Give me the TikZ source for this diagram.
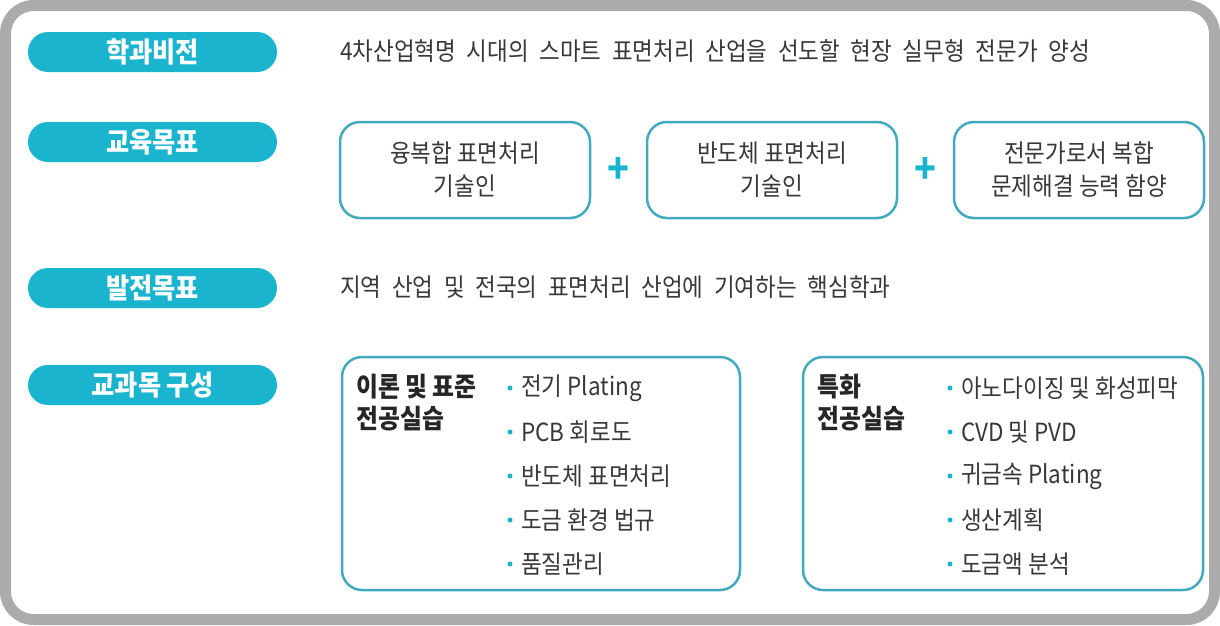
\documentclass[tikz,border=0pt]{standalone}
\usepackage{fontspec}
\newfontfamily\kofont[FakeStretch=0.9]{Noto Sans CJK KR}
\newcommand\widespace{\spaceskip=10.6pt plus 2pt\relax}
\usepackage{tikz}
\usetikzlibrary{shapes.misc}
\usetikzlibrary{positioning}
\usetikzlibrary{calc}
\definecolor{pillcyan}{HTML}{1AB4CE}
\definecolor{boxteal}{HTML}{43AABD}
\definecolor{framegray}{HTML}{ABABAB}
\definecolor{textgray}{HTML}{383838}
\tikzset{
label_pill/.style={rounded rectangle, fill=pillcyan, text=white, minimum width=249, minimum height=40, inner sep=0, font=\kofont\bfseries\fontsize{28}{30}\selectfont},
plain_text/.style={anchor=west, inner sep=0, text=textgray, font=\kofont\fontsize{25}{28}\selectfont\widespace},
goal_box/.style={rectangle, rounded corners=20, draw=boxteal, line width=2.5, minimum width=250, minimum height=96, align=center, text=textgray, font=\kofont\fontsize{25}{33}\selectfont},
plus_sign/.style={text=pillcyan, inner sep=0, font=\kofont\bfseries\fontsize{40}{40}\selectfont},
course_box/.style={rounded corners=20, draw=boxteal, line width=2.5},
course_title/.style={anchor=west, inner sep=0, align=left, text=black!85, font=\kofont\bfseries\fontsize{26.5}{32}\selectfont},
bullet_item/.style={anchor=west, inner sep=0, text=textgray, font=\kofont\fontsize{25}{28}\selectfont}
}

\begin{document}
\begin{tikzpicture}[x=1pt, y=-1pt]
    \useasboundingbox (0,0) rectangle (1220,625);
    \draw[framegray, line width=11, rounded corners=28] (5.5,5.5) rectangle (1214.5,619.5);

    % left labels
    \node[label_pill] (vision) at (152.5,52) {학과비전};
    \node[label_pill] (edu_goal) at (152.5,142) {교육목표};
    \node[label_pill] (dev_goal) at (152.5,288) {발전목표};
    \node[label_pill] (curriculum) at (152.5,385) {교과목 구성};

    \node[plain_text] (vision_text) at (340,51) {4차산업혁명 시대의 스마트 표면처리 산업을 선도할 현장 실무형 전문가 양성};
    \node[plain_text] (dev_text) at (340,287) {지역 산업 및 전국의 표면처리 산업에 기여하는 핵심학과};

    % education goals
    \node[goal_box] (goal_1) at (465,170) {융복합 표면처리\\기술인};
    \node[goal_box] (goal_2) [right=54.5 of goal_1] {반도체 표면처리\\기술인};
    \node[goal_box] (goal_3) [right=54.5 of goal_2] {전문가로서 복합\\문제해결 능력 함양};
    \node[plus_sign] (plus_1) at ($(goal_1.east)!0.5!(goal_2.west)$) {+};
    \node[plus_sign] (plus_2) at ($(goal_2.east)!0.5!(goal_3.west)$) {+};

    % courses
    \draw[course_box] (342,357) rectangle (740,590);
    \draw[course_box] (803,357) rectangle (1203,590);
    \node[course_title] (title_a) at (356,403) {이론 및 표준\\전공실습};
    \node[course_title] (title_b) at (817,403) {특화\\전공실습};
    \foreach \txt [count=\i] in {전기 Plating, PCB 회로도, 반도체 표면처리, 도금 환경 법규, 품질관리} {
        \node[bullet_item] (a_\i) at (521,344+44*\i) {\txt};
        \fill[pillcyan] ([xshift=-11]a_\i.west) circle (2.5);
    }
    \foreach \txt [count=\i] in {아노다이징 및 화성피막, CVD 및 PVD, 귀금속 Plating, 생산계획, 도금액 분석} {
        \node[bullet_item] (b_\i) at (961,344+44*\i) {\txt};
        \fill[pillcyan] ([xshift=-11]b_\i.west) circle (2.5);
    }
\end{tikzpicture}
\end{document}
